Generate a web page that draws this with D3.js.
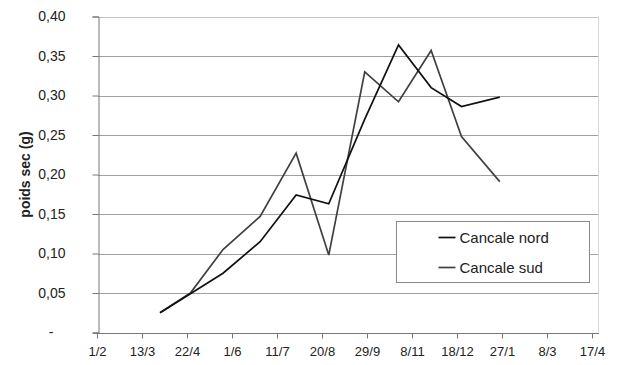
<!DOCTYPE html>
<html>
<head>
<meta charset="utf-8">
<script src="https://cdn.jsdelivr.net/npm/d3@7/dist/d3.min.js"></script>
<style>
  html, body { margin: 0; padding: 0; background: #fff; }
  svg { display: block; font-family: "Liberation Sans", Arial, sans-serif; }
</style>
</head>
<body>
<svg id="chart" width="619" height="365"></svg>
<script>
// Sampling dates (dry weight measurements)
const sampleDates = ["1997-03-29", "1997-04-25", "1997-05-24", "1997-06-26", "1997-07-28",
  "1997-08-26", "1997-09-27", "1997-10-27", "1997-11-25", "1997-12-22", "1998-01-25"];

// Dry weight (g) per site
const cancaleNord = [0.025, 0.049, 0.075, 0.115, 0.174, 0.163, 0.270, 0.364, 0.310, 0.286, 0.298];
const cancaleSud  = [0.025, 0.050, 0.105, 0.147, 0.227, 0.098, 0.330, 0.292, 0.357, 0.248, 0.191];

const seriesNames = ["Cancale nord", "Cancale sud"];

// Axis ticks
const xTickDates = ["1997-02-01", "1997-03-13", "1997-04-22", "1997-06-01", "1997-07-11", "1997-08-20",
  "1997-09-29", "1997-11-08", "1997-12-18", "1998-01-27", "1998-03-08", "1998-04-17"];
const yTicks = [0, 0.05, 0.10, 0.15, 0.20, 0.25, 0.30, 0.35, 0.40];

const parse = d3.utcParse("%Y-%m-%d");
const svg = d3.select("#chart");

// Plot frame; the last date tick sits a little inside the right edge
const plot = { left: 98, right: 598, top: 16.5, bottom: 332.5 };
const tickSpan = { first: 97, last: 592 };

const x = d3.scaleUtc()
  .domain([parse(xTickDates[0]), parse(xTickDates[xTickDates.length - 1])])
  .range([tickSpan.first, tickSpan.last]);
const y = d3.scaleLinear().domain([0, 0.40]).range([plot.bottom, plot.top]);

const fmtY = v => v === 0 ? "-" : d3.format(".2f")(v).replace(".", ",");
const fmtX = d3.utcFormat("%-d/%-m");

// Horizontal gridlines
svg.append("g")
  .selectAll("line")
  .data(yTicks.filter(v => v > 0))
  .join("line")
  .attr("x1", plot.left).attr("x2", plot.right)
  .attr("y1", d => Math.round(y(d)) + 0.5).attr("y2", d => Math.round(y(d)) + 0.5)
  .attr("stroke", d => d === 0.40 ? "#c4c4c4" : "#a0a0a0")
  .attr("stroke-width", 1);

// Plot area right border
svg.append("line")
  .attr("x1", plot.right + 0.5).attr("x2", plot.right + 0.5)
  .attr("y1", y(0.40)).attr("y2", plot.bottom)
  .attr("stroke", "#d8d8d8");

// Y axis
const yAxis = d3.axisLeft(y).tickValues(yTicks).tickFormat(fmtY).tickSize(6).tickPadding(27);
const gy = svg.append("g").attr("transform", `translate(${plot.left + 0.5},0)`).call(yAxis);
gy.select(".domain").attr("stroke", "#777");
gy.selectAll(".tick line").attr("stroke", "#777");
gy.selectAll(".tick text")
  .attr("fill", "#222").attr("font-size", 14)
  .attr("font-family", "Liberation Sans, Arial, sans-serif")
  .attr("dx", d => d === 0 ? -12 : 0);

// X axis
const xAxis = d3.axisBottom(x).tickValues(xTickDates.map(parse)).tickFormat(fmtX).tickSize(5).tickSizeOuter(0).tickPadding(8);
const gx = svg.append("g").attr("transform", `translate(0,${Math.round(plot.bottom) + 0.5})`).call(xAxis);
gx.select(".domain").remove();
gx.append("line")
  .attr("x1", plot.left - 4).attr("x2", plot.right + 1)
  .attr("stroke", "#777");
gx.selectAll(".tick line").attr("stroke", "#777");
gx.selectAll(".tick text")
  .attr("fill", "#222").attr("font-size", 13)
  .attr("font-family", "Liberation Sans, Arial, sans-serif");

// Y axis title
svg.append("text")
  .attr("transform", `translate(30,${(plot.top + plot.bottom) / 2}) rotate(-90)`)
  .attr("text-anchor", "middle")
  .attr("font-size", 14).attr("font-weight", "bold").attr("fill", "#222")
  .text("poids sec (g)");

// Series lines
const series = [
  { name: seriesNames[0], values: cancaleNord, color: "#111" },
  { name: seriesNames[1], values: cancaleSud, color: "#404040" }
];
const line = d3.line()
  .x((d, i) => x(parse(sampleDates[i])))
  .y(d => y(d));

svg.append("g")
  .selectAll("path")
  .data(series.slice().reverse())
  .join("path")
  .attr("d", d => line(d.values))
  .attr("fill", "none")
  .attr("stroke", d => d.color)
  .attr("stroke-width", 1.7)
  .attr("stroke-linejoin", "miter");

// Legend
const lg = svg.append("g").attr("transform", "translate(396.5,221.5)");
lg.append("rect").attr("width", 193).attr("height", 61)
  .attr("fill", "#fff").attr("stroke", "#888");
series.forEach((s, i) => {
  const cy = 16 + i * 30;
  lg.append("line").attr("x1", 42).attr("x2", 59).attr("y1", cy).attr("y2", cy)
    .attr("stroke", s.color).attr("stroke-width", 1.7);
  lg.append("text").attr("x", 63).attr("y", cy).attr("dy", "0.36em")
    .attr("font-size", 15).attr("fill", "#222").text(s.name);
});
</script>
</body>
</html>
